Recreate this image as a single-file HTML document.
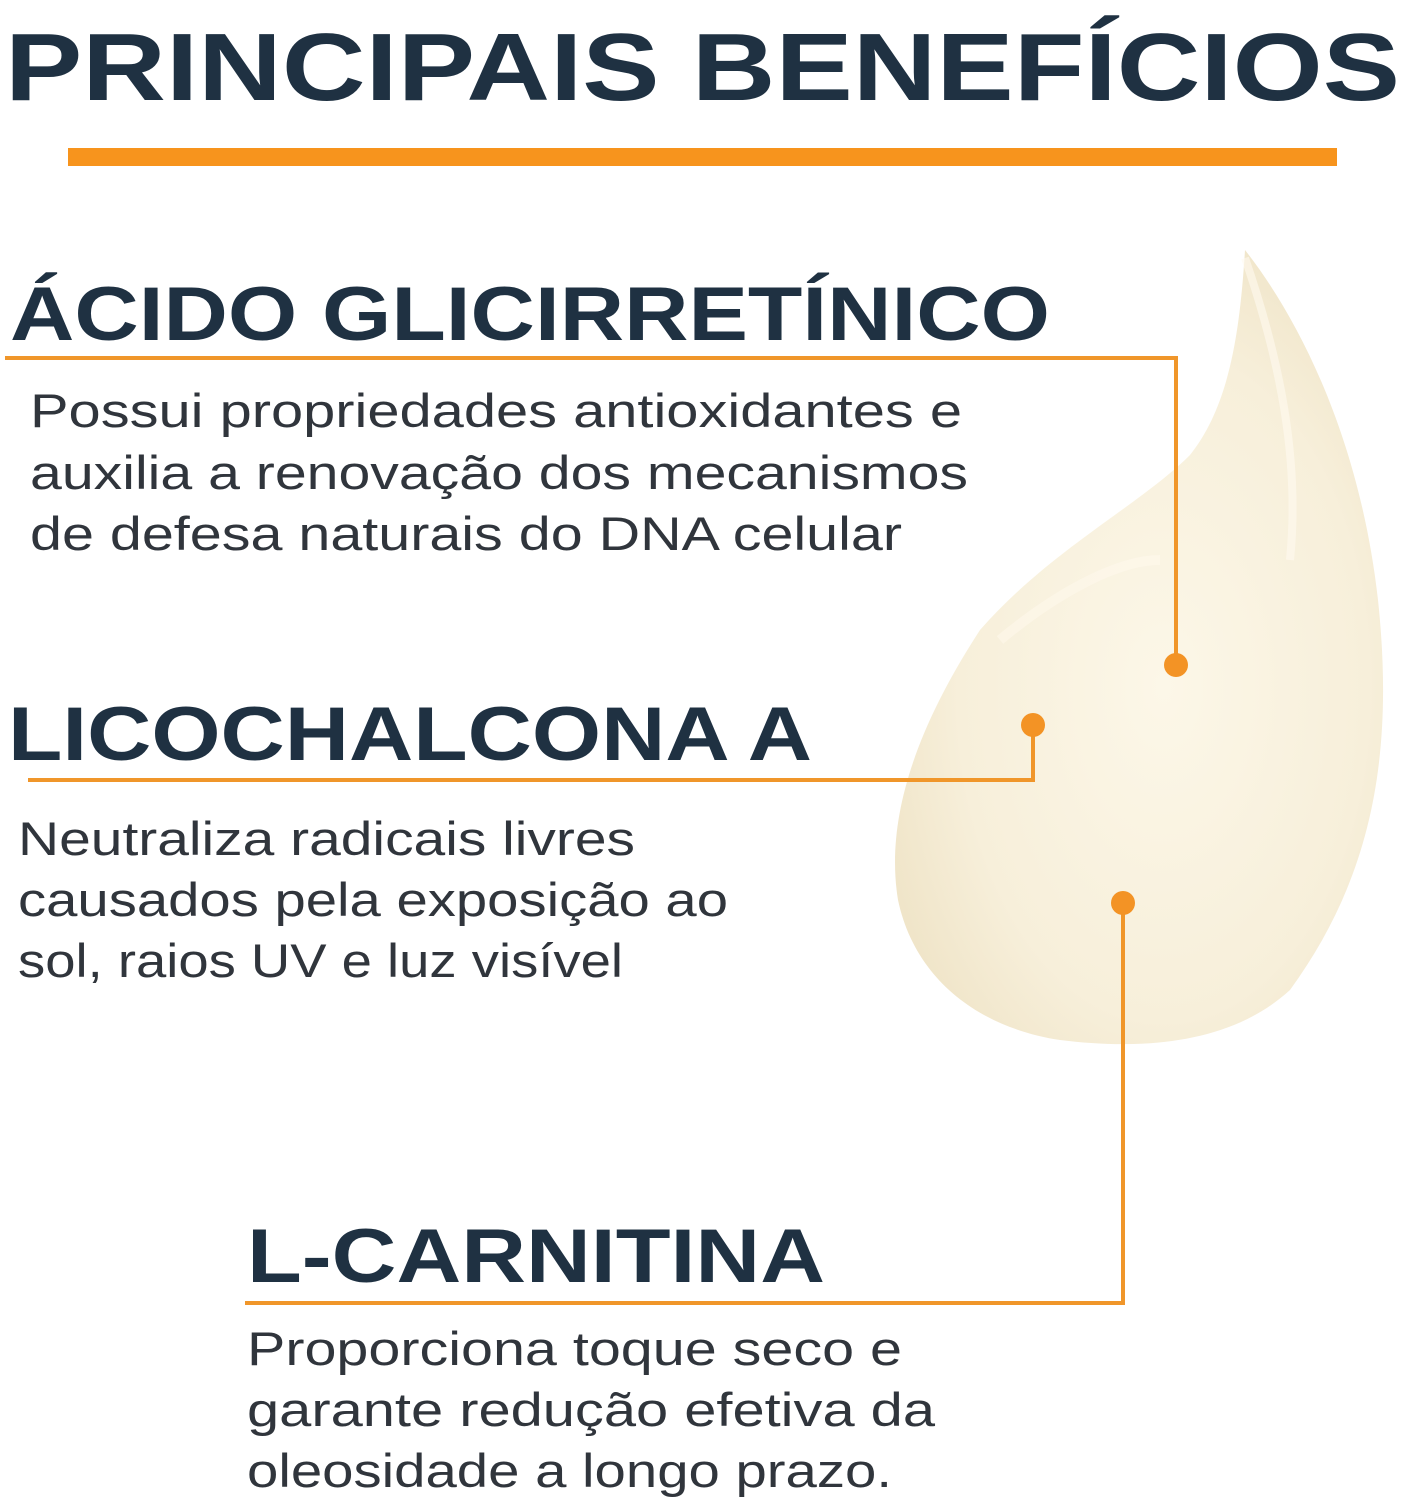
<!DOCTYPE html>
<html><head><meta charset="utf-8"><style>
html,body{margin:0;padding:0;background:#fff;}
svg{display:block;}
</style></head><body>
<svg width="1407" height="1500" viewBox="0 0 1407 1500" xmlns="http://www.w3.org/2000/svg">
<defs>
<radialGradient id="cg" cx="0.55" cy="0.55" r="0.6">
<stop offset="0" stop-color="#fcf7e8"/>
<stop offset="0.7" stop-color="#f7efda"/>
<stop offset="1" stop-color="#f0e5c9"/>
</radialGradient>
</defs>
<path d="M1245,250 C1300,320 1360,440 1378,600 C1395,760 1370,880 1290,990 C1230,1045 1140,1050 1060,1040 C980,1028 915,980 898,900 C885,820 915,730 980,630 C1050,550 1140,505 1190,455 C1230,405 1240,330 1245,250 Z" fill="url(#cg)"/>
<path d="M1245,258 C1280,360 1300,460 1290,560" stroke="#fffaf0" stroke-width="8" fill="none" opacity="0.6"/>
<path d="M1000,640 C1060,590 1120,560 1160,560" stroke="#fffaee" stroke-width="10" fill="none" opacity="0.5"/>
<g font-family="Liberation Sans, sans-serif" fill="#1f3142" font-weight="bold">
<text x="5" y="100" font-size="96" textLength="1395" lengthAdjust="spacingAndGlyphs">PRINCIPAIS BENEFÍCIOS</text>
<text x="10" y="340" font-size="76" textLength="1040" lengthAdjust="spacingAndGlyphs">ÁCIDO GLICIRRETÍNICO</text>
<text x="8" y="760" font-size="76" textLength="804" lengthAdjust="spacingAndGlyphs">LICOCHALCONA A</text>
<text x="247" y="1282" font-size="76" textLength="578" lengthAdjust="spacingAndGlyphs">L-CARNITINA</text>
</g>
<rect x="68" y="148" width="1269" height="18" fill="#f7941d"/>
<g stroke="#f0962a" stroke-width="4" fill="none">
<polyline points="5,358 1176,358 1176,665"/>
<polyline points="28,780 1033,780 1033,725"/>
<polyline points="245,1303 1123,1303 1123,903"/>
</g>
<g fill="#f39325">
<circle cx="1176" cy="665" r="12"/>
<circle cx="1033" cy="725" r="12"/>
<circle cx="1123" cy="903" r="12"/>
</g>
<g font-family="Liberation Sans, sans-serif" fill="#30353c" font-size="47">
<text x="30" y="427" textLength="932" lengthAdjust="spacingAndGlyphs">Possui propriedades antioxidantes e</text>
<text x="30" y="489" textLength="938" lengthAdjust="spacingAndGlyphs">auxilia a renovação dos mecanismos</text>
<text x="30" y="550" textLength="872" lengthAdjust="spacingAndGlyphs">de defesa naturais do DNA celular</text>
<text x="18" y="855" textLength="617" lengthAdjust="spacingAndGlyphs">Neutraliza radicais livres</text>
<text x="18" y="916" textLength="710" lengthAdjust="spacingAndGlyphs">causados pela exposição ao</text>
<text x="18" y="977" textLength="605" lengthAdjust="spacingAndGlyphs">sol, raios UV e luz visível</text>
<text x="247" y="1365" textLength="655" lengthAdjust="spacingAndGlyphs">Proporciona toque seco e</text>
<text x="247" y="1426" textLength="688" lengthAdjust="spacingAndGlyphs">garante redução efetiva da</text>
<text x="247" y="1487" textLength="645" lengthAdjust="spacingAndGlyphs">oleosidade a longo prazo.</text>
</g>
</svg>
</body></html>
